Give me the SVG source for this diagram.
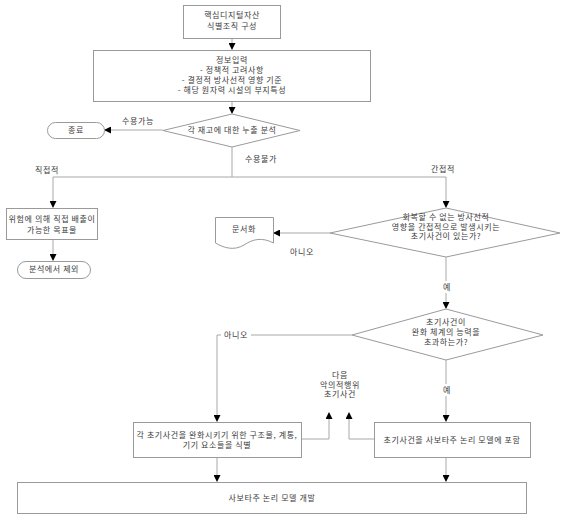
<svg xmlns="http://www.w3.org/2000/svg" width="568" height="520" viewBox="0 0 568 520">
<defs>
<marker id="ah" markerWidth="7" markerHeight="7" refX="6" refY="3.5" orient="auto" markerUnits="userSpaceOnUse">
<path d="M0,0 L7,3.5 L0,7 Z" fill="#000"/>
</marker>
<style>
.n{fill:#fff;stroke:#9a9a9a;stroke-width:1}
.t{font-family:"Noto Sans CJK KR","Noto Sans",sans-serif;font-size:8px;fill:#3a3a3a;text-anchor:middle;letter-spacing:0.6px}
.c{fill:none;stroke:#a8a8a8;stroke-width:1}
.a{marker-end:url(#ah)}
.bg{fill:#fff}
</style>
</defs>
<rect width="568" height="520" fill="#fff"/>
<g id="connectors">
<path class="c a" d="M232,38 V49"/>
<path class="c a" d="M232,101 V113"/>
<path class="c a" d="M163,130 H105"/>
<path class="c" d="M232,147 V177 M53,177 H446"/>
<path class="c a" d="M53,177 V207"/>
<path class="c a" d="M446,177 V207"/>
<path class="c a" d="M53,239 V260"/>
<path class="c a" d="M330,233 H274"/>
<path class="c a" d="M446,257 V308"/>
<path class="c a" d="M352,335 H217 V421"/>
<path class="c a" d="M446,360 V421"/>
<path class="c a" d="M301,439 H329 V413"/>
<path class="c a" d="M374,439 H349 V413"/>
<path class="c a" d="M217,457 V481"/>
<path class="c a" d="M446,457 V481"/>
<rect class="bg" x="440" y="281" width="13" height="12"/>
<rect class="bg" x="440" y="384" width="13" height="12"/>
<rect class="bg" x="221" y="330" width="30" height="11"/>
<text class="t" x="138" y="124">수용가능</text>
<text class="t" x="261" y="162">수용불가</text>
<text class="t" x="47" y="173">직접적</text>
<text class="t" x="443" y="172">간접적</text>
<text class="t" x="302" y="255">아니오</text>
<text class="t" x="447" y="290">예</text>
<text class="t" x="447" y="393">예</text>
<text class="t" x="236" y="338">아니오</text>
<text class="t" x="340" y="378">다음<tspan x="340" dy="9.5">악의적행위</tspan><tspan x="340" dy="9.5">초기사건</tspan></text>
</g>
<g id="n1">
<rect class="n" x="183.5" y="5.5" width="97" height="33"/>
<text class="t" x="232" y="18">핵심디지털자산<tspan x="232" dy="11">식별조직 구성</tspan></text>
</g>
<g id="n2">
<rect class="n" x="93.5" y="50.5" width="277" height="51"/>
<text class="t" x="232" y="63">정보입력<tspan x="232" dy="10">- 정책적 고려사항</tspan><tspan x="232" dy="10">- 결정적 방사선적 영향 기준</tspan><tspan x="232" dy="9.5">- 해당 원자력 시설의 부지특성</tspan></text>
</g>
<g id="n3">
<polygon class="n" points="232,114 300,130.5 232,147 163,130.5"/>
<text class="t" x="232" y="133">각 재고에 대한 누출 분석</text>
</g>
<g id="n4">
<rect class="n" x="47.5" y="122.5" width="57" height="16" rx="8"/>
<text class="t" x="76" y="133">종료</text>
</g>
<g id="n5">
<rect class="n" x="6.5" y="208.5" width="91" height="31"/>
<text class="t" x="52" y="222">위험에 의해 직접 배출이<tspan x="52" dy="11">가능한 목표물</tspan></text>
</g>
<g id="n6">
<rect class="n" x="17.5" y="261.5" width="73" height="17" rx="8.5"/>
<text class="t" x="54" y="272">분석에서 제외</text>
</g>
<g id="n7">
<path class="n" d="M215.5,217.5 H273.5 V243 C262,237 253,239 244,245 C234,251 224,248 215.5,243 Z"/>
<text class="t" x="244" y="232">문서화</text>
</g>
<g id="n8">
<polygon class="n" points="446,208 560,233 446,257 330,233"/>
<text class="t" x="446" y="220">회복할 수 없는 방사선적<tspan x="446" dy="9.5">영향을 간접적으로 발생시키는</tspan><tspan x="446" dy="9.5">초기사건이 있는가?</tspan></text>
</g>
<g id="n9">
<polygon class="n" points="446,309 543,335 446,360 352,335"/>
<text class="t" x="446" y="325">초기사건이<tspan x="446" dy="10">완화 체계의 능력을</tspan><tspan x="446" dy="10">초과하는가?</tspan></text>
</g>
<g id="n10">
<rect class="n" x="133.5" y="422.5" width="168" height="35"/>
<text class="t" x="217" y="438">각 초기사건을 완화시키기 위한 구조물, 계통,<tspan x="217" dy="10">기기 요소들을 식별</tspan></text>
</g>
<g id="n11">
<rect class="n" x="374.5" y="422.5" width="156" height="35"/>
<text class="t" x="452" y="443">초기사건을 사보타주 논리 모델에 포함</text>
</g>
<g id="n12">
<rect class="n" x="17.5" y="482.5" width="509" height="31"/>
<text class="t" x="272" y="501">사보타주 논리 모델 개발</text>
</g>
</svg>
